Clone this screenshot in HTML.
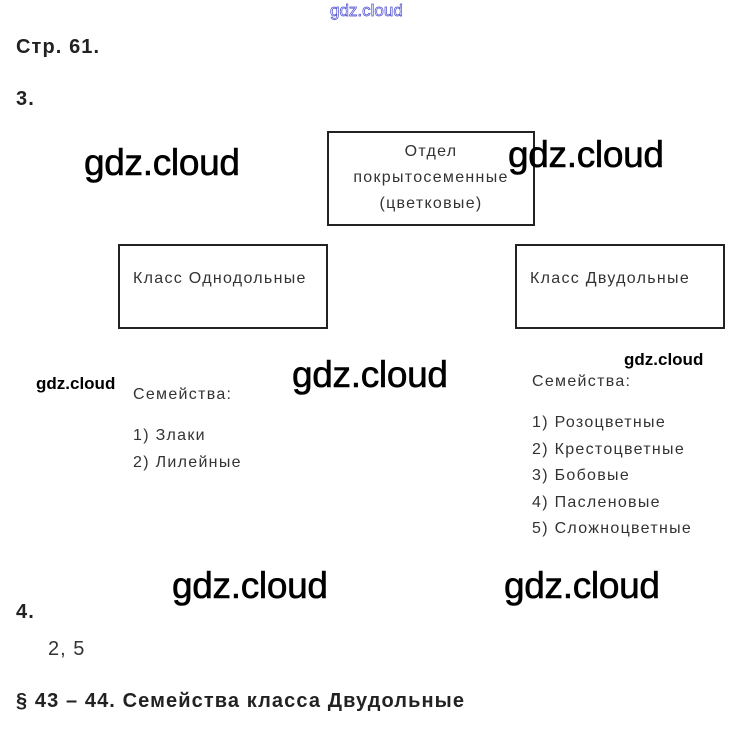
<!DOCTYPE html>
<html><head><meta charset="utf-8"><style>
body{margin:0;width:736px;height:731px;background:#fff;position:relative;overflow:hidden;font-family:"Liberation Sans",sans-serif}
.a{position:absolute;white-space:nowrap}
.h{font-weight:bold;font-size:20px;color:#222;letter-spacing:1.1px}
.w{font-size:37px;color:#000;letter-spacing:-0.3px;-webkit-text-stroke:0.6px #000}
.ws{font-size:17px;font-weight:bold;color:#000}
.t{font-size:16px;color:#333;line-height:26.5px;letter-spacing:1.3px}
.box{position:absolute;border:2px solid #222;box-sizing:border-box}
</style></head><body>
<div class="a" style="left:330px;top:1px;font-size:17px;color:#fff;-webkit-text-stroke:0.7px #4a4ad0;">gdz.cloud</div>
<div class="a h" style="left:16px;top:36px">Стр. 61.</div>
<div class="a h" style="left:16px;top:88px">3.</div>
<div class="box" style="left:327px;top:131px;width:208px;height:95px"></div>
<div class="a t" style="left:327px;top:139px;width:208px;text-align:center;line-height:26px">Отдел<br>покрытосеменные<br>(цветковые)</div>
<div class="box" style="left:118px;top:244px;width:210px;height:85px"></div>
<div class="a t" style="left:133px;top:266px">Класс Однодольные</div>
<div class="box" style="left:515px;top:244px;width:210px;height:85px"></div>
<div class="a t" style="left:530px;top:266px">Класс Двудольные</div>
<div class="a t" style="left:133px;top:382px">Семейства:</div>
<div class="a t" style="left:133px;top:423px">1) Злаки<br>2) Лилейные</div>
<div class="a t" style="left:532px;top:369px">Семейства:</div>
<div class="a t" style="left:532px;top:410px">1) Розоцветные<br>2) Крестоцветные<br>3) Бобовые<br>4) Пасленовые<br>5) Сложноцветные</div>
<div class="a w" style="left:84px;top:142px">gdz.cloud</div>
<div class="a w" style="left:508px;top:134px">gdz.cloud</div>
<div class="a w" style="left:292px;top:354px">gdz.cloud</div>
<div class="a w" style="left:172px;top:565px">gdz.cloud</div>
<div class="a w" style="left:504px;top:565px">gdz.cloud</div>
<div class="a ws" style="left:36px;top:374px">gdz.cloud</div>
<div class="a ws" style="left:624px;top:350px">gdz.cloud</div>
<div class="a h" style="left:16px;top:601px">4.</div>
<div class="a" style="left:48px;top:638px;font-size:20px;color:#333;letter-spacing:1px">2, 5</div>
<div class="a h" style="left:16px;top:690px">§ 43 – 44. Семейства класса Двудольные</div>
</body></html>
